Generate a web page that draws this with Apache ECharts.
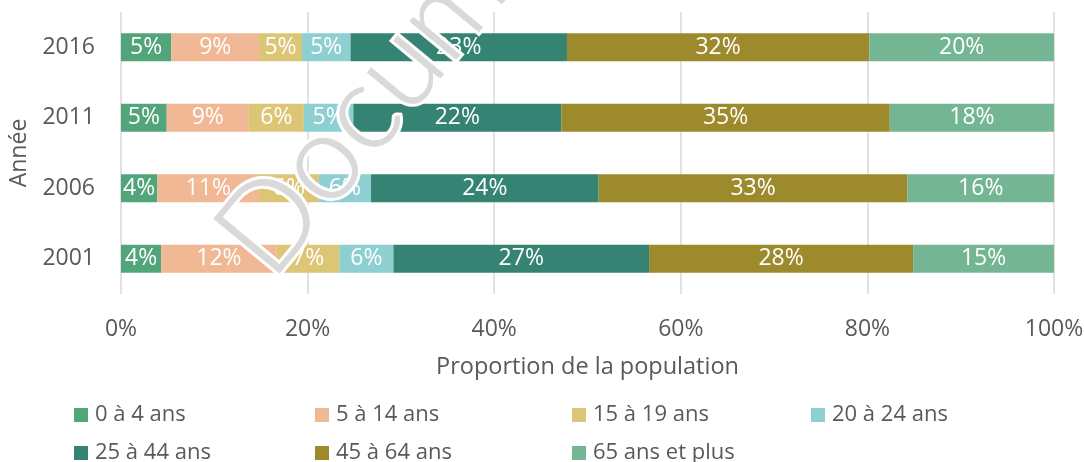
<!DOCTYPE html>
<html>
<head>
<meta charset="utf-8">
<script src="https://cdn.jsdelivr.net/npm/echarts@6/dist/echarts.min.js"></script>
<style>
  html, body { margin: 0; padding: 0; background: #fff; }
  #chart { width: 1084px; height: 462px; }
</style>
</head>
<body>
<div id="chart"></div>
<script>
// categories (bottom to top)
const years = ['2001', '2006', '2011', '2016']
const groups = ['0 à 4 ans', '5 à 14 ans', '15 à 19 ans', '20 à 24 ans', '25 à 44 ans', '45 à 64 ans', '65 ans et plus']

// share of population, %, one value per year
const age0_4 = [4.3, 3.9, 4.9, 5.4]
const age5_14 = [12.4, 10.9, 8.8, 9.4]
const age15_19 = [6.7, 6.4, 5.9, 4.6]
const age20_24 = [5.8, 5.6, 5.3, 5.2]
const age25_44 = [27.4, 24.4, 22.3, 23.2]
const age45_64 = [28.3, 33.1, 35.2, 32.4]
const age65plus = [15.1, 15.7, 17.6, 19.8]

const xTicks = [0, 20, 40, 60, 80, 100]

const colors = ['#52a47b', '#f0b894', '#dcc574', '#8ecfd1', '#358373', '#9c8a2c', '#74b693']
const values = [age0_4, age5_14, age15_19, age20_24, age25_44, age45_64, age65plus]

const font = "'Open Sans', sans-serif"
const textColor = '#595959'

const chart = echarts.init(document.getElementById('chart'))

// legend is laid out in columns like the original
const legendCols = [74, 315, 572, 811]
const legends = groups.map(function (g, i) {
  return {
    data: [g],
    left: legendCols[i % 4] - 5,
    top: i < 4 ? 399 : 437,
    itemWidth: 14,
    itemHeight: 14,
    itemGap: 0,
    icon: 'rect',
    textStyle: { fontFamily: font, fontSize: 22, color: textColor, padding: [0, 0, 0, 2] },
  }
})

const option = {
  backgroundColor: '#fff',
  animation: false,
  color: colors,
  legend: legends,
  grid: {
    left: 121,
    right: 30,
    top: 12,
    bottom: 168,
    outerBoundsMode: 'none',
  },
  xAxis: {
    type: 'value',
    min: xTicks[0],
    max: xTicks[xTicks.length - 1],
    interval: 20,
    name: 'Proportion de la population',
    nameLocation: 'middle',
    nameGap: 61,
    nameTextStyle: { fontFamily: font, fontSize: 23.5, color: textColor },
    axisLine: { show: false },
    axisTick: { show: false },
    axisLabel: {
      formatter: '{value}%',
      margin: 24,
      fontFamily: font,
      fontSize: 23,
      color: textColor,
    },
    splitLine: { lineStyle: { color: '#d9d9d9', width: 1.5 } },
  },
  yAxis: {
    type: 'category',
    data: years,
    name: 'Année',
    nameLocation: 'middle',
    nameGap: 90,
    nameRotate: 90,
    nameTextStyle: { fontFamily: font, fontSize: 23, color: textColor },
    axisLine: { show: false },
    axisTick: { show: false },
    axisLabel: {
      margin: 26,
      fontFamily: font,
      fontSize: 23,
      color: textColor,
    },
  },
  series: groups.map(function (g, i) {
    return {
      name: g,
      type: 'bar',
      stack: 'total',
      barWidth: 28,
      data: values[i],
      label: {
        show: true,
        position: 'inside',
        color: '#fff',
        fontFamily: font,
        fontSize: 23,
        formatter: function (p) {
          return Math.round(p.value) + '%'
        },
      },
    }
  }),
  graphic: [
    {
      type: 'text',
      x: 288,
      y: 296,
      rotation: 0.88,
      z: 100,
      style: {
        text: 'Document',
        font: "300 120px Lato, Roboto, 'Open Sans', sans-serif",
        fill: '#ffffff',
        stroke: '#ffffff',
        lineWidth: 7,
        textAlign: 'left',
        textVerticalAlign: 'bottom',
      },
    },
    {
      type: 'text',
      x: 288,
      y: 296,
      rotation: 0.88,
      z: 101,
      style: {
        text: 'Document',
        font: "300 120px Lato, Roboto, 'Open Sans', sans-serif",
        fill: '#d9d9d9',
        stroke: '#d9d9d9',
        lineWidth: 1,
        textAlign: 'left',
        textVerticalAlign: 'bottom',
      },
    },
  ],
}

chart.setOption(option)
</script>
</body>
</html>
